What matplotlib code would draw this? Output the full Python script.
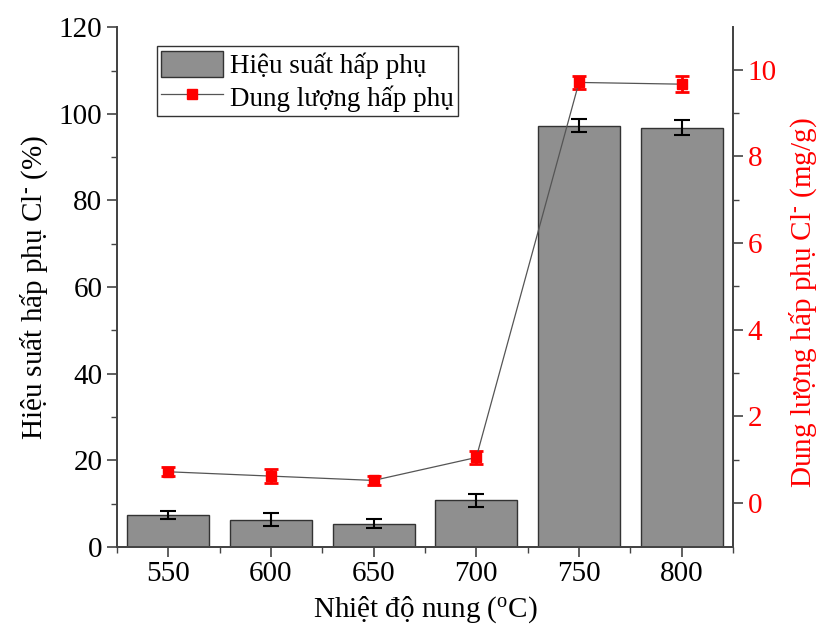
import numpy as np
import matplotlib.pyplot as plt

plt.rcParams['font.family'] = ['Liberation Serif', 'DejaVu Serif']
plt.rcParams['mathtext.fontset'] = 'custom'
plt.rcParams['mathtext.rm'] = 'Liberation Serif'
plt.rcParams['mathtext.it'] = 'Liberation Serif:italic'

# data
temps = [550, 600, 650, 700, 750, 800]
efficiency = [7.3, 6.3, 5.4, 10.8, 97.2, 96.8]
efficiency_err = [0.9, 1.5, 0.95, 1.5, 1.5, 1.7]
capacity = [0.72, 0.62, 0.52, 1.05, 9.71, 9.67]
capacity_err = [0.1, 0.16, 0.1, 0.16, 0.16, 0.18]

fig = plt.figure(figsize=(8.18, 6.33), dpi=100)
ax = fig.add_axes([0.143, 0.136, 0.753, 0.821])
ax2 = ax.twinx()

# bars
ax.bar(temps, efficiency, width=40, color='#8f8f8f', edgecolor='#333333',
       linewidth=1.0, label='Hiệu suất hấp phụ', zorder=2)
ax.errorbar(temps, efficiency, yerr=efficiency_err, fmt='none', ecolor='black',
            elinewidth=1.5, capsize=6, capthick=1.5, zorder=3)

# line on right axis
ax2.errorbar(temps, capacity, yerr=capacity_err, fmt='none', ecolor='red',
             elinewidth=2, capsize=5, capthick=2, zorder=3)
ax2.plot(temps, capacity, color='#555555', linewidth=0.9, marker='s',
         markersize=6.5, markerfacecolor='red', markeredgecolor='red',
         label='Dung lượng hấp phụ', zorder=4)

ax.set_xlim(525, 825)
ax.set_ylim(0, 120)
ax2.set_ylim(-1.015, 10.985)

ax.set_xticks(temps)
ax.set_xticks(np.arange(525, 826, 50), minor=True)
ax.set_yticks(np.arange(0, 121, 20))
ax.set_yticks(np.arange(10, 120, 20), minor=True)
ax2.set_yticks(np.arange(0, 11, 2))
ax2.set_yticks(np.arange(1, 11, 2), minor=True)

for a in (ax, ax2):
    a.spines['top'].set_visible(False)
    for s in a.spines.values():
        s.set_color('#444444')
        s.set_linewidth(1.3)
    a.tick_params(which='major', direction='out', length=7, width=1.2, color='#444444', labelsize=21)
    a.tick_params(which='minor', direction='out', length=4, width=1.0, color='#444444')

ax2.tick_params(axis='y', labelcolor='red')

ax.set_xlabel('Nhiệt độ nung ($^{\\mathrm{o}}$C)', fontsize=21, labelpad=5)
ax.set_ylabel('Hiệu suất hấp phụ Cl$^{\\text{-}}$ (%)', fontsize=21, labelpad=6)
ax2.set_ylabel('Dung lượng hấp phụ Cl$^{\\text{-}}$ (mg/g)', fontsize=21, color='red')
ax2.yaxis.set_label_coords(1.088, 0.47)

h1, l1 = ax.get_legend_handles_labels()
h2, l2 = ax2.get_legend_handles_labels()
leg = ax2.legend(h1 + h2, l1 + l2, loc='upper left', bbox_to_anchor=(0.065, 0.963),
                 fontsize=19.5, frameon=True, fancybox=False, edgecolor='black',
                 handlelength=2.3, handleheight=1.15, borderpad=0.15, labelspacing=0.15,
                 handletextpad=0.25, borderaxespad=0)
leg.get_frame().set_linewidth(1.0)

plt.savefig('out.png', dpi=100)
